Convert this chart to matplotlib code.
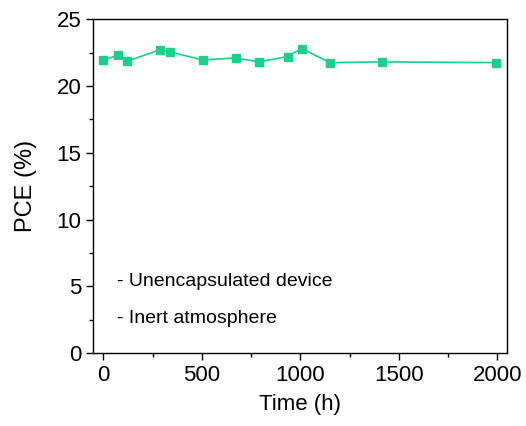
import matplotlib
matplotlib.use("Agg")
import matplotlib.pyplot as plt
from matplotlib.ticker import MultipleLocator

plt.rcParams['font.family'] = ['Liberation Sans', 'DejaVu Sans']

# stability test of the unencapsulated cell
time_h = [0, 73, 120, 286, 337, 504, 672, 790, 936, 1007, 1151, 1413, 1992]
pce = [21.95, 22.3, 21.85, 22.7, 22.55, 21.95, 22.1, 21.8, 22.2, 22.8, 21.75, 21.8, 21.75]
notes = ["- Unencapsulated device", "- Inert atmosphere"]

color = "#1ccf8a"

fig = plt.figure(figsize=(5.26, 4.26), dpi=100)
ax = fig.add_axes([0.177, 0.171, 0.787, 0.784])
ax.plot(time_h, pce, "-s", color=color, lw=1.2, ms=6, mec=color, mfc=color)

ax.set_xlim(-52, 2050)
ax.set_ylim(0, 25)
ax.xaxis.set_major_locator(MultipleLocator(500))
ax.xaxis.set_minor_locator(MultipleLocator(250))
ax.yaxis.set_major_locator(MultipleLocator(5))
ax.yaxis.set_minor_locator(MultipleLocator(2.5))
ax.tick_params(which="major", direction="out", length=5, width=1, labelsize=16)
ax.tick_params(which="minor", direction="out", length=3, width=1)
for s in ax.spines.values():
    s.set_linewidth(1)

ax.set_xlabel("Time (h)", fontsize=16, labelpad=6)
ax.set_ylabel("PCE (%)", fontsize=17, labelpad=14)

ax.text(0.058, 0.215, notes[0], transform=ax.transAxes, fontsize=14, va="center")
ax.text(0.058, 0.105, notes[1], transform=ax.transAxes, fontsize=14, va="center")

plt.savefig("out.png", dpi=100)
